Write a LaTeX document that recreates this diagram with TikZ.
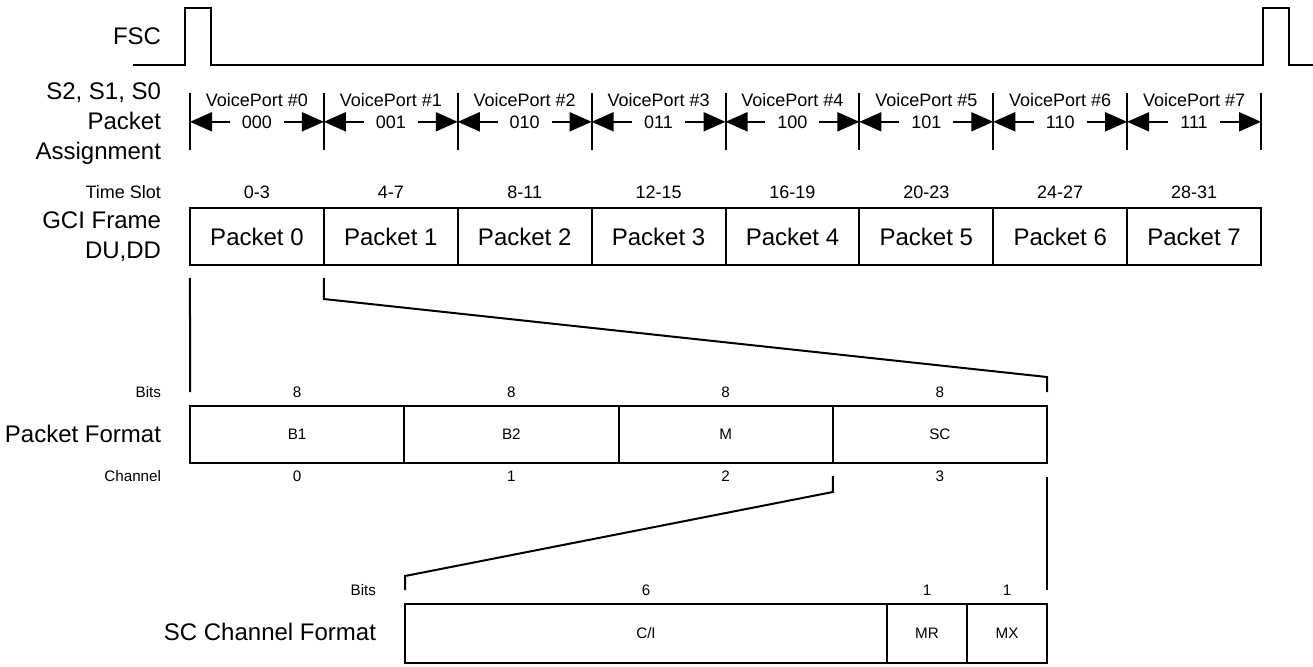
\documentclass[tikz,border=0pt]{standalone}
\usepackage{fontspec}
\setmainfont{Liberation Sans}
\usetikzlibrary{arrows.meta}
\begin{document}
\begin{tikzpicture}[x=0.5pt,y=-0.5pt,line width=1pt,
  big/.style={font=\fontsize{12}{14}\selectfont,inner sep=0pt},
  mid/.style={font=\fontsize{9}{11}\selectfont,inner sep=0pt},
  small/.style={font=\fontsize{7.6}{9}\selectfont,inner sep=0pt},
  cell/.style={draw,inner sep=0pt,outer sep=0pt},
  arr/.style={-{Triangle[length=11pt,width=9.5pt]}},
  lbl/.style={anchor=base east},
  ctr/.style={anchor=base}]
\useasboundingbox (0,0) rectangle (1313,666);

% FSC signal
\draw (133,65) -- (185,65) -- (185,8) -- (211,8) -- (211,65) -- (1263,65) -- (1263,8) -- (1289,8) -- (1289,65) -- (1313,65);

% left labels
\node[big,lbl] (fsc) at (162,44) {FSC};
\node[big,lbl] (sa) at (162,99.5) {S2, S1, S0};
\node[big,lbl] (sb) at (162,129) {Packet};
\node[big,lbl] (sc) at (162,159) {Assignment};
\node[mid,lbl] (tsl) at (162,198) {Time Slot};
\node[big,lbl] (ga) at (162,228) {GCI Frame};
\node[big,lbl] (gb) at (162,258) {DU,DD};
\node[small,lbl] (bitsa) at (162,397) {Bits};
\node[big,lbl] (pfl) at (162,442) {Packet Format};
\node[small,lbl] (chl) at (162,481) {Channel};
\node[small,lbl] (bitsb) at (377,595) {Bits};
\node[big,lbl] (scl) at (377,640) {SC Channel Format};

% ticks
\foreach \i in {0,...,8} {
  \pgfmathsetmacro\xx{190+\i*133.875}
  \coordinate (m\i) at (\xx,122);
  \draw (\xx,93) -- (\xx,150);
}

% voice ports, time slots, packets
\foreach \i/\cd/\tsx in {0/000/0-3,1/001/4-7,2/010/8-11,3/011/12-15,4/100/16-19,5/101/20-23,6/110/24-27,7/111/28-31} {
  \pgfmathsetmacro\xx{190+(\i+0.5)*133.875}
  \pgfmathtruncatemacro\j{\i+1}
  \node[mid,ctr] (v\i) at (\xx,106) {VoicePort \#\i};
  \node[mid,ctr] (c\i) at (\xx,128) {\cd};
  \draw[arr] ([xshift=-5.5pt]c\i.west) -- (c\i.west -| m\i);
  \draw[arr] ([xshift=5.5pt]c\i.east) -- (c\i.east -| m\j);
  \node[mid,ctr] (ts\i) at (\xx,198) {\tsx};
  \node[cell,big,minimum width=66.94pt,minimum height=28.5pt] (p\i) at (\xx,236.5) {Packet \i};
}

% packet format
\foreach \i/\t in {0/B1,1/B2,2/M,3/SC} {
  \pgfmathsetmacro\xx{190+(\i+0.5)*214.25}
  \node[cell,small,minimum width=107.125pt,minimum height=28.5pt] (f\i) at (\xx,434.5) {\t};
  \node[small,ctr] (fb\i) at (\xx,397) {8};
  \node[small,ctr] (fc\i) at (\xx,481) {\i};
}

% SC channel format
\node[cell,small,minimum width=241pt,minimum height=29.5pt] (s0) at (646,633.5) {C/I};
\node[cell,small,minimum width=40pt,minimum height=29.5pt] (s1) at (927,633.5) {MR};
\node[cell,small,minimum width=40pt,minimum height=29.5pt] (s2) at (1007,633.5) {MX};
\node[small,ctr] (sb0) at (646,595) {6};
\node[small,ctr] (sb1) at (927,595) {1};
\node[small,ctr] (sb2) at (1007,595) {1};

% zoom lines
\coordinate (k1) at (1047,377);
\coordinate (k2) at (405,576);
\draw ([yshift=-6.5pt]p0.south west) -- ([yshift=7pt]f0.north west);
\draw ([yshift=-6.5pt]p1.south west) -- ++(0,21) -- (k1) -- ([yshift=7pt]f3.north east);
\draw ([yshift=-6.5pt]f2.south east) -- ++(0,16) -- (k2) -- ([yshift=7pt]s0.north west);
\draw ([yshift=-7pt]f3.south east) -- ([yshift=7pt]s2.north east);
\end{tikzpicture}
\end{document}
